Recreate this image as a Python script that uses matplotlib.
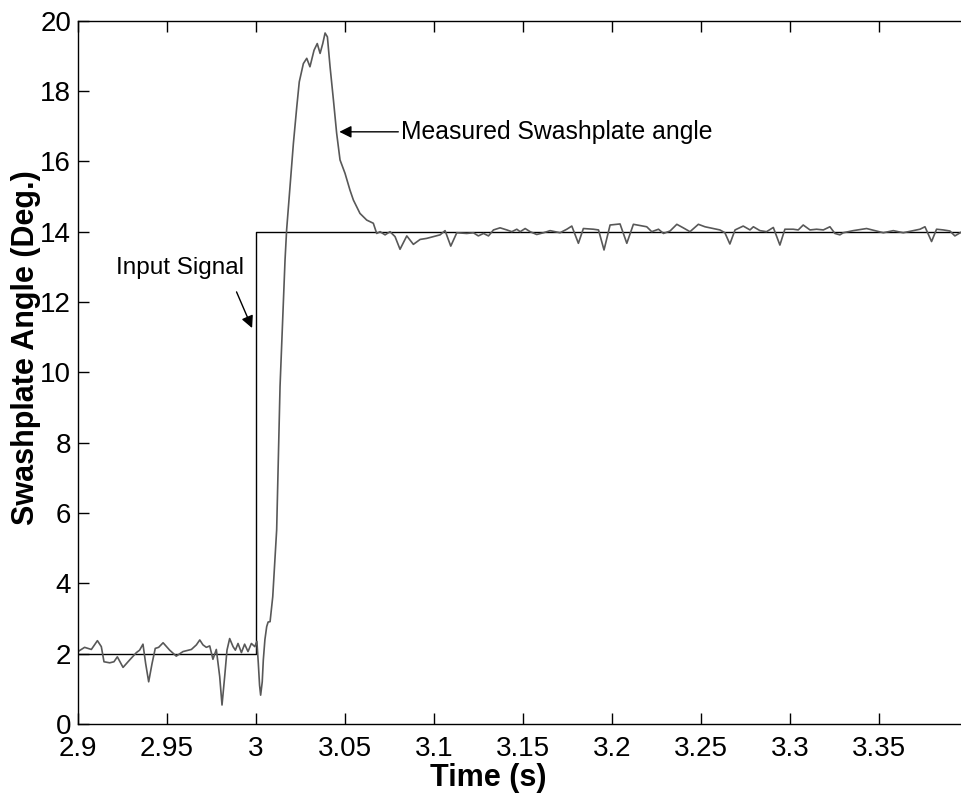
import matplotlib
matplotlib.use('Agg')
from matplotlib import pyplot as plt

# measured swashplate angle
t_meas = [2.9, 2.9037, 2.9075, 2.9109, 2.9131, 2.9146, 2.9178, 2.9202, 2.9221, 2.9253,
          2.929, 2.9328, 2.9346, 2.9365, 2.938, 2.9397, 2.9416, 2.9434, 2.9453, 2.9478,
          2.9515, 2.9552, 2.959, 2.9637, 2.9665, 2.9684, 2.9702, 2.9721, 2.974, 2.9758,
          2.9777, 2.9796, 2.9809, 2.9824, 2.9837, 2.9852, 2.9871, 2.9884, 2.9899, 2.9918,
          2.9936, 2.9955, 2.9974, 2.9993,
          3.0005, 3.0013, 3.002, 3.0026, 3.0035, 3.0041, 3.005, 3.006, 3.0068, 3.0079,
          3.0094, 3.0116, 3.0135, 3.0163, 3.0172, 3.0191, 3.021, 3.0229, 3.0243, 3.0266,
          3.0285, 3.0303, 3.0326, 3.0344, 3.036, 3.0375, 3.0388, 3.0401, 3.0416, 3.0435,
          3.0453, 3.0472, 3.05, 3.0528, 3.0547, 3.0584, 3.0622, 3.0659, 3.0678, 3.0697,
          3.0725, 3.0753, 3.0781, 3.0809, 3.0847, 3.0884, 3.0922, 3.0959, 3.0997, 3.1034,
          3.1062, 3.1094, 3.1128, 3.1184, 3.1221, 3.1249, 3.1278, 3.1306, 3.1334, 3.1371,
          3.1409, 3.1437, 3.1465, 3.1484, 3.1512, 3.154, 3.1577, 3.1615, 3.1652, 3.1708,
          3.1746, 3.1774, 3.1811, 3.1839, 3.1896, 3.1924, 3.1955, 3.1989, 3.2045, 3.2083,
          3.212, 3.2195, 3.2223, 3.2261, 3.2289, 3.2326, 3.2364, 3.24, 3.2438, 3.2485,
          3.2522, 3.2569, 3.2606, 3.2634, 3.2662, 3.2691, 3.2737, 3.2775, 3.2794, 3.2831,
          3.2868, 3.2906, 3.2943, 3.2971, 3.3018, 3.3046, 3.3074, 3.3112, 3.3149, 3.3187,
          3.3224, 3.3252, 3.328, 3.3299, 3.3355, 3.343, 3.3524, 3.358, 3.3636, 3.3692,
          3.373, 3.3758, 3.3795, 3.3823, 3.3861, 3.3898, 3.3926, 3.3966]
a_meas = [2.06, 2.18, 2.12, 2.37, 2.20, 1.77, 1.74, 1.77, 1.91, 1.61,
          1.82, 2.03, 2.10, 2.27, 1.72, 1.20, 1.72, 2.15, 2.18, 2.31,
          2.10, 1.93, 2.06, 2.12, 2.25, 2.39, 2.25, 2.18, 2.22, 1.84,
          2.12, 1.35, 0.54, 1.35, 2.10, 2.43, 2.20, 2.10, 2.29, 2.03,
          2.27, 2.06, 2.29, 2.20,
          2.35, 1.72, 1.10, 0.82, 1.20, 1.82, 2.40, 2.77, 2.90, 2.91,
          3.62, 5.52, 9.60, 13.19, 14.05, 15.28, 16.51, 17.55, 18.26, 18.78,
          18.93, 18.69, 19.16, 19.35, 19.07, 19.35, 19.65, 19.54, 18.69, 17.74,
          16.80, 16.04, 15.66, 15.18, 14.90, 14.52, 14.33, 14.24, 13.95, 14.00,
          13.91, 14.00, 13.86, 13.50, 13.88, 13.64, 13.78, 13.81, 13.86, 13.91,
          14.03, 13.59, 13.97, 13.95, 13.97, 13.88, 13.95, 13.88, 14.05, 14.11,
          14.05, 14.00, 14.07, 14.00, 14.09, 14.00, 13.92, 13.97, 14.03, 13.97,
          14.07, 14.16, 13.67, 14.09, 14.07, 14.05, 13.48, 14.19, 14.22, 13.67,
          14.21, 14.14, 14.00, 14.07, 13.95, 14.02, 14.21, 14.11, 14.00, 14.21,
          14.14, 14.09, 14.05, 13.97, 13.65, 14.05, 14.16, 14.05, 14.14, 14.03,
          14.00, 14.12, 13.62, 14.07, 14.07, 14.05, 14.19, 14.05, 14.07, 14.05,
          14.14, 13.95, 13.91, 13.97, 14.03, 14.09, 13.97, 14.03, 13.97, 14.03,
          14.07, 14.14, 13.72, 14.07, 14.05, 14.02, 13.88, 14.00]

# input step signal
t_in = [2.9, 3.0, 3.0, 3.3966]
a_in = [2, 2, 14, 14]

x_ticks = [2.9, 2.95, 3.0, 3.05, 3.1, 3.15, 3.2, 3.25, 3.3, 3.35]
x_ticklabels = ['2.9', '2.95', '3', '3.05', '3.1', '3.15', '3.2', '3.25', '3.3', '3.35']
y_ticks = [0, 2, 4, 6, 8, 10, 12, 14, 16, 18, 20]

plt.rcParams['font.family'] = ['Liberation Sans', 'DejaVu Sans']

fig = plt.figure(figsize=(9.62, 7.96), dpi=100)
ax = fig.add_axes([78 / 962, 1 - 724 / 796, 884 / 962, 703.3 / 796])

ax.plot(t_in, a_in, color='black', linewidth=1.0)
ax.plot(t_meas, a_meas, color='#585858', linewidth=1.2)

ax.set_xlim(2.9, 3.3966)
ax.set_ylim(0, 20)
ax.set_xticks(x_ticks)
ax.set_xticklabels(x_ticklabels)
ax.set_yticks(y_ticks)
ax.tick_params(direction='in', length=8, width=1, labelsize=20, top=True, right=False)
ax.tick_params(axis='x', pad=9)
ax.tick_params(axis='y', pad=5)
ax.spines['right'].set_visible(False)
for s in ['left', 'bottom', 'top']:
    ax.spines[s].set_linewidth(1.0)

ax.set_xlabel('Time (s)', fontsize=22, fontweight='bold', labelpad=0)
ax.xaxis.set_label_coords(0.464, -0.055)
ax.set_ylabel('Swashplate Angle (Deg.)', fontsize=22, fontweight='bold')
ax.yaxis.set_label_coords(-0.042, 0.535)

ax.annotate('Measured Swashplate angle', xy=(3.0468, 16.84), xytext=(3.0815, 16.84),
            fontsize=17.8, va='center', ha='left',
            arrowprops=dict(arrowstyle='-|>', color='black', lw=1, mutation_scale=18, shrinkA=0, shrinkB=0))
ax.annotate('Input Signal', xy=(2.9978, 11.26), xytext=(2.9212, 12.97),
            fontsize=17.5, va='center', ha='left',
            arrowprops=dict(arrowstyle='-|>', color='black', lw=1, mutation_scale=18,
                            shrinkA=8, shrinkB=0, relpos=(0.9, 0.0)))

fig.savefig('out.png', dpi=100)
